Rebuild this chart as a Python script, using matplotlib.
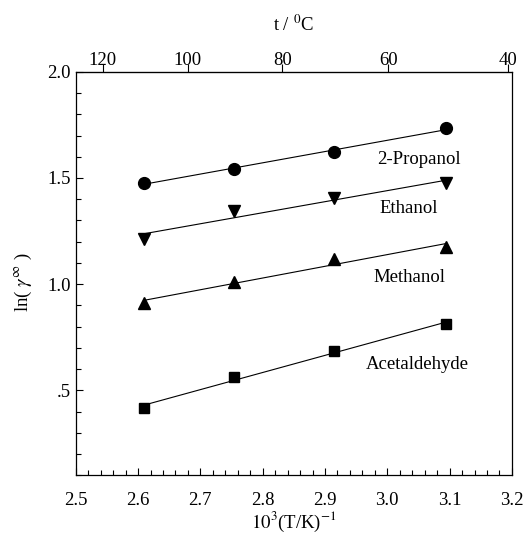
import numpy as np
import matplotlib
matplotlib.use('Agg')
import matplotlib.pyplot as plt
from matplotlib.ticker import MultipleLocator, FixedLocator, FixedFormatter

plt.rcParams['font.family'] = ['Liberation Serif', 'DejaVu Serif']
plt.rcParams['mathtext.fontset'] = 'stix'

# 测量温度 (°C) 与 1000/T
t_celsius = [110, 90, 70, 50]
inv_T = [1000.0 / (t + 273.15) for t in t_celsius]

# ln(gamma_inf) 数据
propanol = [1.477, 1.543, 1.622, 1.735]
ethanol = [1.212, 1.343, 1.406, 1.474]
methanol = [0.911, 1.008, 1.117, 1.174]
acetaldehyde = [0.416, 0.561, 0.687, 0.810]

series = [
    ('2-Propanol', propanol, 'o', 8.5, (2.984, 1.588)),
    ('Ethanol', ethanol, 'v', 8.5, (2.988, 1.355)),
    ('Methanol', methanol, '^', 8.5, (2.977, 1.033)),
    ('Acetaldehyde', acetaldehyde, 's', 7.5, (2.966, 0.621)),
]

fig = plt.figure(figsize=(5.24, 5.40), dpi=100)
ax = fig.add_axes([0.1445, 0.120, 0.8325, 0.747])

x = np.array(inv_T)
for name, vals, mk, ms, (lx, ly) in series:
    y = np.array(vals)
    k, b = np.polyfit(x, y, 1)
    ax.plot(x, k * x + b, color='black', lw=0.8)
    ax.plot(x, y, linestyle='none', marker=mk, ms=ms, color='black')
    ax.text(lx, ly, name, fontsize=13.5, ha='left', va='center')

ax.set_xlim(2.5, 3.2)
ax.set_ylim(0.1, 2.0)
ax.xaxis.set_major_locator(MultipleLocator(0.1))
ax.xaxis.set_minor_locator(MultipleLocator(0.02))
ax.xaxis.set_major_formatter(plt.FuncFormatter(lambda v, p: f'{v:.1f}'))
ax.yaxis.set_major_locator(FixedLocator([0.5, 1.0, 1.5, 2.0]))
ax.yaxis.set_major_formatter(FixedFormatter(['.5', '1.0', '1.5', '2.0']))
ax.yaxis.set_minor_locator(MultipleLocator(0.1))
ax.tick_params(which='both', direction='in', top=False, right=False,
               labelsize=13.5, width=0.8)
ax.tick_params(which='major', length=5)
ax.tick_params(which='minor', length=3.5)
ax.tick_params(axis='x', pad=12)
for s in ax.spines.values():
    s.set_linewidth(0.9)

# 顶部温度坐标轴
sec = ax.secondary_xaxis('top', functions=(lambda v: 1000.0 / np.asarray(v, float) - 273.15,
                                           lambda v: 1000.0 / (np.asarray(v, float) + 273.15)))
sec.set_xticks([120, 100, 80, 60, 40])
sec.set_xticklabels(['120', '100', '80', '60', '40'])
sec.tick_params(direction='out', length=6, width=0.8, labelsize=13.5, pad=-4)
sec.xaxis.set_minor_locator(FixedLocator([]))
sec.set_xlabel(r't / $^0$C', fontsize=13.5, labelpad=15)

ax.set_xlabel(r'$10^3$(T/K)$^{-1}$', fontsize=13.5)
ax.xaxis.set_label_coords(0.5, -0.117)
ax.xaxis.label.set_va('center')
ax.set_ylabel(r'ln( $\gamma^{\infty}$ )', fontsize=13.5)
ax.yaxis.set_label_coords(-0.12, 0.479)
ax.yaxis.label.set_va('center')

fig.savefig('out.png', dpi=100)
